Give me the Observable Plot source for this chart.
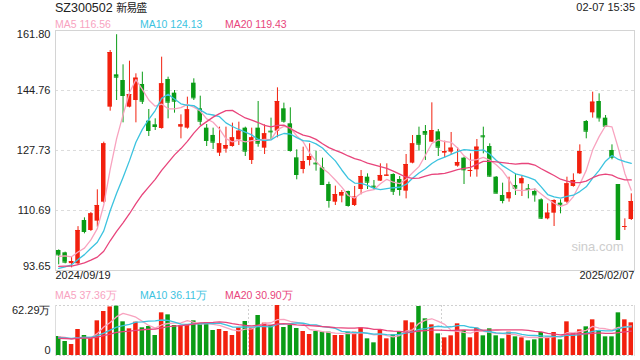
<!DOCTYPE html>
<html><head><meta charset="utf-8">
<script src="https://cdn.jsdelivr.net/npm/d3@7"></script>
<script src="https://cdn.jsdelivr.net/npm/@observablehq/plot@0.6"></script>
<style>
body{margin:0;background:#fff;font-family:"Liberation Sans",Arial,sans-serif;}
#wrap{position:relative;width:640px;height:360px;overflow:hidden;background:#fff}
#wrap svg{position:absolute;left:0}
.t{position:absolute;white-space:nowrap;line-height:1}
.cjk{font-family:"Noto Sans CJK SC",sans-serif;font-size:11px;letter-spacing:-1px;line-height:1}
</style></head><body><div id="wrap"></div>
<script>
const titleCode = "SZ300502";
const titleName = "新易盛";
const stamp = "02-07 15:35";
const dateLabels = ["2024/09/19", "2025/02/07"];
const priceTicks = [93.65, 110.69, 127.73, 144.76, 161.80];
const volMax = 62.29;
const volUnit = "万";
const maLabels = ["MA5 116.56", "MA10 124.13", "MA20 119.43"];
const volMaLabels = ["MA5 37.36万", "MA10 36.11万", "MA20 30.90万"];

const open = [99.33,98.67,95.60,95.54,107.85,105.01,107.66,113.05,140.03,149.21,
147.60,140.03,141.92,146.47,136.05,135.01,133.97,147.89,144.01,134.35,
134.07,146.84,139.56,134.07,132.00,126.97,128.10,128.86,130.75,134.07,
124.89,134.07,128.39,133.21,133.21,139.56,135.30,125.64,122.33,124.89,
124.13,122.80,118.07,113.05,114.76,116.09,112.11,116.65,120.15,117.60,
119.02,120.44,120.91,119.49,116.18,124.13,132.00,133.12,130.09,133.02,
126.97,127.25,123.28,125.55,121.86,122.24,131.89,128.86,120.15,114.95,
113.99,117.79,118.26,116.84,116.09,113.72,108.32,109.93,112.77,113.05,
117.51,121.10,135.96,138.42,141.64,136.91,127.73,118.07,105.96,108.13];
const high = [99.50,98.86,97.40,106.10,108.60,110.12,116.56,130.09,156.12,160.60,
152.05,153.09,149.50,149.97,139.37,136.72,154.23,148.55,144.76,137.85,
142.87,148.08,143.15,135.11,134.07,134.35,134.35,135.49,135.77,134.35,
134.07,141.64,135.01,136.91,145.52,141.17,139.84,127.92,128.67,129.62,
127.54,125.55,118.73,117.60,116.37,116.18,117.51,122.05,121.10,119.21,
123.94,123.94,121.10,120.34,126.59,131.98,134.35,134.82,141.26,133.69,
130.38,132.84,128.48,125.83,126.78,130.85,134.35,129.62,120.34,118.45,
120.15,121.10,120.44,118.07,116.84,114.00,112.58,113.72,113.72,120.15,
121.10,129.33,136.24,144.29,143.82,137.66,129.33,118.07,108.32,115.42];
const low = [95.26,95.54,94.40,95.35,104.06,104.73,105.96,112.77,138.89,141.92,
135.58,139.84,135.58,140.79,131.70,133.40,133.78,136.72,138.33,131.04,
133.78,141.92,134.82,128.86,128.01,126.02,126.97,128.67,129.14,126.02,
123.75,128.67,126.59,130.57,131.32,135.49,127.25,119.40,121.10,123.32,
121.86,117.79,111.35,112.11,112.87,111.63,111.82,115.14,116.65,116.37,
118.92,120.34,114.95,114.76,113.99,123.94,127.54,124.89,130.00,126.02,
125.64,126.59,122.99,118.07,120.15,120.15,126.78,120.15,115.42,112.58,
113.05,114.95,114.66,113.99,113.05,108.13,108.04,106.14,109.74,112.58,
117.32,120.91,131.04,136.91,135.77,134.35,125.08,102.36,105.01,107.85];
const close = [98.10,96.02,96.20,105.01,104.73,109.74,112.11,129.62,155.55,148.55,
143.34,143.63,148.26,141.73,133.40,134.54,146.66,141.45,141.73,135.01,
139.27,142.68,136.05,130.57,130.09,129.62,129.14,131.32,133.21,127.54,
131.32,129.81,132.46,133.02,141.64,136.05,127.73,120.91,124.60,126.02,
123.94,118.07,113.53,115.23,115.80,112.11,114.48,120.34,118.73,117.32,
120.63,120.72,116.18,116.65,123.75,129.62,129.52,132.36,133.40,128.67,
127.44,128.39,124.32,122.24,122.05,128.67,131.61,120.44,115.61,113.53,
115.71,117.03,119.68,116.65,115.14,108.51,109.93,113.53,112.30,118.26,
119.21,127.44,133.21,141.45,137.00,134.63,125.83,102.45,106.14,113.24];
// volume, 万股
const volume = [23.67,17.44,13.70,32.39,24.92,22.01,43.19,54.82,60.50,61.50,
41.94,33.22,41.53,34.47,36.13,24.92,53.15,50.66,37.37,37.37,
38.20,43.19,40.00,40.70,31.15,32.39,29.90,24.92,34.47,42.36,
34.05,49.83,40.28,37.37,62.29,34.88,37.37,33.64,29.90,26.16,
29.90,29.07,29.07,24.92,24.92,29.07,29.07,34.47,20.76,15.78,
32.39,20.76,25.75,29.90,43.19,40.70,61.04,45.68,38.20,26.99,
22.01,24.50,39.45,31.15,22.01,34.05,24.50,33.22,24.50,20.76,
29.07,23.25,22.01,18.27,19.52,28.65,22.84,28.65,19.52,41.94,
27.41,31.98,35.71,44.43,31.15,23.25,23.25,53.15,44.43,40.70];
// estimated sessions before the visible window (only feed the moving averages)
const priorClose = [94.8,95.6,96.3,95.2,94.1,95.0,96.4,95.8,94.9,95.3,91.8,90.6,89.9,90.8,91.5,95.2,97.4,98.3,99.1];
const priorVolume = [20,21,18,22,19,20,21,19,22,21,20,22,21,23,20,22,24,23,24];

const red = "#f2200e", green = "#0a9c16";
const cMA = ["#f8a3bf", "#3cc3df", "#e8457c"];
const font = "'Liberation Sans', Arial, sans-serif";

const N = close.length;
const idx = d3.range(N);
const rows = idx.map(i => ({i, o: open[i], h: high[i], l: low[i], c: close[i], v: volume[i], up: close[i] >= open[i]}));
function ma(prior, vals, k) {
  const all = prior.concat(vals), P = prior.length;
  return vals.map((_, i) => d3.mean(all.slice(Math.max(0, P + i - k + 1), P + i + 1)));
}
const periods = [5, 10, 20];
const pMA = periods.map(k => ma(priorClose, close, k));
const vMA = periods.map(k => ma(priorVolume, volume, k));
const color = d => d.up ? red : green;

const xScale = {type: "band", domain: idx, paddingInner: 0.3, paddingOuter: 0.15, round: false, axis: null};
const style = {fontFamily: font, fontSize: "11px", background: "transparent", color: "#222", overflow: "visible"};

const lineMarks = (series) => series.map((s, j) =>
  Plot.lineY(idx, {x: d => d, y: d => s[d], stroke: cMA[j], strokeWidth: 1.3}));

const main = Plot.plot({
  width: 640, height: 285, marginTop: 30, marginBottom: 15, marginLeft: 55, marginRight: 6,
  style,
  x: xScale,
  y: {domain: [priceTicks[0], priceTicks[priceTicks.length - 1]], axis: null},
  marks: [
    Plot.ruleY(priceTicks.slice(1, -1), {stroke: "#dcdcdc", strokeDasharray: "3,3"}),
    Plot.frame({stroke: "#d4d4d4"}),
    Plot.text(["sina.com"], {frameAnchor: "bottom-right", dx: -11, dy: -20, fill: "#cdcdcd", fontSize: 13}),
    Plot.ruleX(rows, {x: "i", y1: "l", y2: "h", stroke: color}),
    Plot.barY(rows, {x: "i", y1: "o", y2: "c", fill: color}),
    Plot.tickY(rows, {x: "i", y: "c", stroke: color}),
    ...lineMarks(pMA),
    Plot.text(priceTicks.slice(1, -1), {y: d => d, frameAnchor: "left", dx: -5, textAnchor: "end", text: d => d.toFixed(2), fill: "#222"}),
    Plot.text([priceTicks[priceTicks.length - 1]], {y: d => d, frameAnchor: "left", dx: -5, textAnchor: "end", lineAnchor: "top", dy: 0, text: d => d.toFixed(2), fill: "#222"}),
    Plot.text([priceTicks[0]], {y: d => d, frameAnchor: "left", dx: -5, textAnchor: "end", lineAnchor: "bottom", dy: -1, text: d => d.toFixed(2), fill: "#222"}),
    Plot.text([dateLabels[0]], {frameAnchor: "bottom-left", textAnchor: "start", dy: 8, fill: "#222"}),
    Plot.text([dateLabels[1]], {frameAnchor: "bottom-right", textAnchor: "end", dy: 8, fill: "#222"})
  ]
});
main.style.top = "0px";

const vol = Plot.plot({
  width: 640, height: 75, marginTop: 20, marginBottom: 5, marginLeft: 55, marginRight: 6,
  style,
  x: xScale,
  y: {domain: [0, volMax], axis: null},
  marks: [
    Plot.ruleY([0, volMax], {stroke: "#d0d0d0", strokeDasharray: "2,2"}),
    Plot.ruleX([30, 60], {x: d => d, dx: -(579 / N) / 2, stroke: "#d0d0d0", strokeDasharray: "2,2"}),
    Plot.frame({anchor: "left", stroke: "#dddddd"}),
    Plot.frame({anchor: "right", stroke: "#dddddd"}),
    Plot.barY(rows, {x: "i", y: "v", fill: color}),
    ...lineMarks(vMA),
    Plot.text([volMax], {y: d => d, frameAnchor: "left", dx: -5, textAnchor: "end", lineAnchor: "top", dy: 1, text: d => d.toFixed(2) + volUnit, fill: "#222"}),
    Plot.text([0], {y: d => d, frameAnchor: "left", dx: -5, textAnchor: "end", lineAnchor: "bottom", dy: -2, text: d => String(d), fill: "#222"})
  ]
});
vol.style.top = "285px";

const wrap = document.getElementById("wrap");
wrap.appendChild(main);
wrap.appendChild(vol);

function label(text, x, centerY, col, size, align) {
  const d = document.createElement("div");
  d.className = "t";
  d.textContent = text;
  d.style.top = (centerY - size / 2) + "px";
  d.style.color = col;
  d.style.fontSize = size + "px";
  if (align === "right") d.style.right = (640 - x) + "px"; else d.style.left = x + "px";
  wrap.appendChild(d);
  return d;
}
const t = label(titleCode + " ", 55, 8.5, "#222", 12.5);
const cj = document.createElement("span");
cj.className = "cjk";
cj.textContent = titleName;
t.appendChild(cj);
label(stamp, 635, 7, "#222", 11, "right");
const labelX = [55, 140, 225];
maLabels.forEach((s, j) => label(s, labelX[j], 24, cMA[j], 10.5));
volMaLabels.forEach((s, j) => label(s, labelX[j], 295, cMA[j], 10.5));
</script></body></html>
